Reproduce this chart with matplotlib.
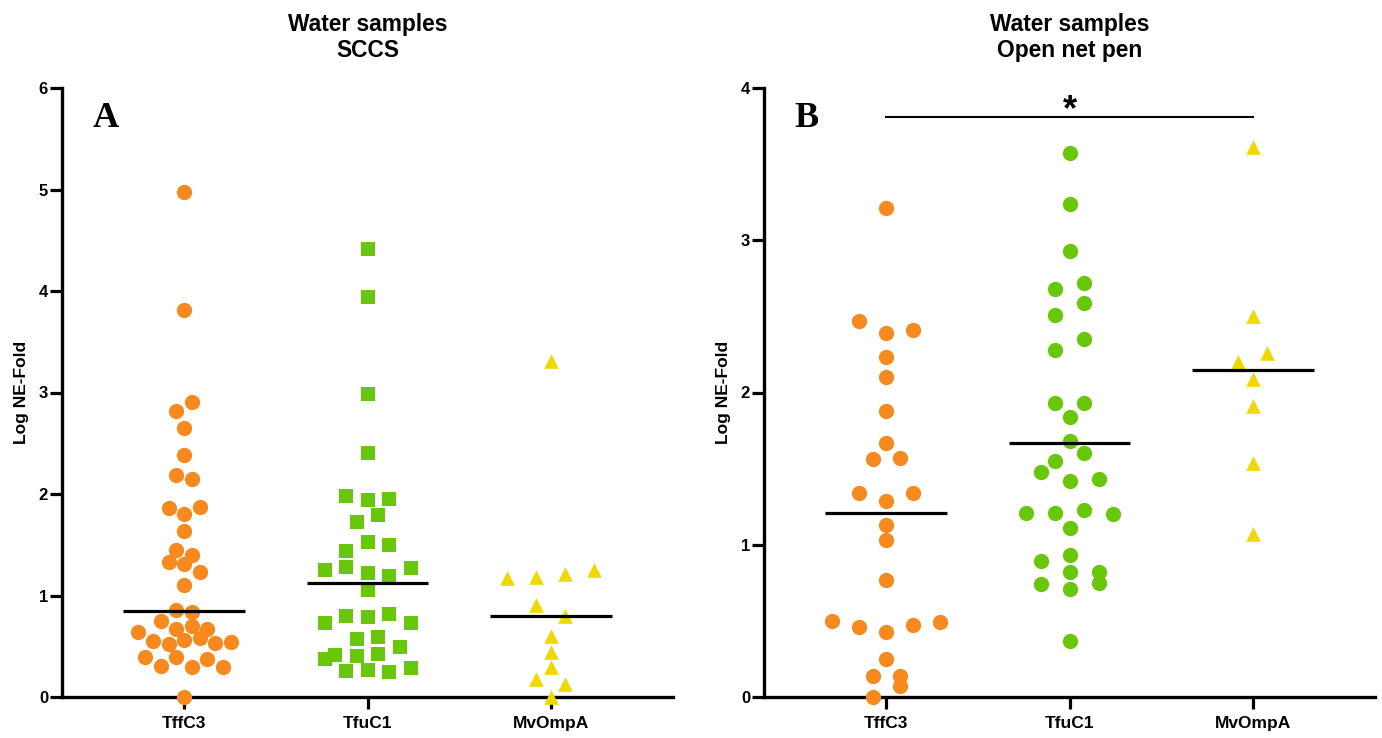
import numpy as np
import matplotlib
matplotlib.use('Agg')
import matplotlib.pyplot as plt

# ==============================
# Data (Log NE-Fold)
# ==============================
categories = ['TffC3', 'TfuC1', 'MvOmpA']

# Panel A - Water samples, SCCS
sccs_tffc3 = [4.98, 3.81, 2.82, 2.91, 2.65, 2.38, 2.19, 2.15, 1.86, 1.80, 1.87,
              1.64, 1.45, 1.40, 1.33, 1.31, 1.23, 1.10, 0.86, 0.84, 0.64, 0.75,
              0.67, 0.70, 0.67, 0.55, 0.52, 0.56, 0.58, 0.53, 0.54, 0.39, 0.31,
              0.39, 0.30, 0.37, 0.30, 0.0]
sccs_tfuc1 = [4.41, 3.94, 2.99, 2.40, 1.98, 1.94, 1.95, 1.72, 1.79, 1.44, 1.53,
              1.50, 1.25, 1.28, 1.22, 1.19, 1.27, 1.05, 0.73, 0.80, 0.79, 0.82,
              0.73, 0.57, 0.59, 0.41, 0.40, 0.42, 0.37, 0.49, 0.26, 0.27, 0.25,
              0.29]
sccs_mvompa = [3.31, 1.17, 1.18, 1.21, 1.25, 0.91, 0.80, 0.60, 0.44, 0.30,
               0.18, 0.13, 0.0]

# Panel B - Water samples, Open net pen
onp_tffc3 = [3.21, 2.47, 2.39, 2.41, 2.23, 2.10, 1.88, 1.67, 1.56, 1.57, 1.34,
             1.29, 1.34, 1.13, 1.03, 0.77, 0.50, 0.46, 0.43, 0.47, 0.49, 0.25,
             0.14, 0.14, 0.0, 0.075]
onp_tfuc1 = [3.57, 3.24, 2.93, 2.68, 2.72, 2.51, 2.59, 2.28, 2.35, 1.93, 1.93,
             1.84, 1.68, 1.55, 1.60, 1.48, 1.42, 1.43, 1.21, 1.21, 1.23, 1.20,
             1.11, 0.93, 0.89, 0.82, 0.74, 0.82, 0.71, 0.75, 0.37]
onp_mvompa = [3.61, 2.50, 2.20, 2.26, 2.09, 1.91, 1.54, 1.07]

# significance bar in panel B (TffC3 vs MvOmpA)
sig_pair = (0, 2)
sig_level = 3.81
sig_text = '*'

# ==============================
# Style
# ==============================
plt.rcParams['font.family'] = ['Liberation Sans', 'DejaVu Sans']

orange = '#F7891F'
green = '#68C70A'
yellow = '#F0D800'

W, H = 1382, 738


def swarm_offsets(values, bin_px, step_px, px_x, px_y):
    """Simple row-binned scatter layout (like a prism dot plot)."""
    order = sorted(range(len(values)), key=lambda k: values[k])
    rows, cur, start = [], [], None
    for k in order:
        if cur and (values[k] - start) * px_y >= bin_px:
            rows.append(cur)
            cur = []
        if not cur:
            start = values[k]
        cur.append(k)
    rows.append(cur)
    offs = np.zeros(len(values))
    for row in rows:
        row.sort()
        n = len(row)
        for j, k in enumerate(row):
            offs[k] = (j - (n - 1) / 2) * step_px / px_x
    return offs


def draw_panel(ax, groups, markers, sizes, colors, steps, ymax, center_fn,
               title, letter):
    ax.set_xlim(-0.665, 2.665)
    ax.set_ylim(0, ymax)
    p0 = ax.transData.transform((0, 0))
    p1 = ax.transData.transform((1, 1))
    px_x, px_y = p1[0] - p0[0], p1[1] - p0[1]

    for i, vals in enumerate(groups):
        vals = np.asarray(vals)
        offs = swarm_offsets(vals, 13, steps[i], px_x, px_y)
        ax.scatter(i + offs, vals, marker=markers[i], s=sizes[i],
                   color=colors[i], linewidths=0, clip_on=False, zorder=3)
        c = center_fn(vals)
        ax.plot([i - 0.33, i + 0.33], [c, c], color='black', lw=2.3,
                solid_capstyle='butt', zorder=4)

    for s in ['top', 'right']:
        ax.spines[s].set_visible(False)
    for s in ['left', 'bottom']:
        ax.spines[s].set_linewidth(2.4)
    ax.set_xticks(range(len(categories)))
    ax.set_xticklabels(categories, fontsize=12.5, fontweight='bold')
    ax.set_yticks(range(0, ymax + 1))
    ax.set_yticklabels([str(v) for v in range(0, ymax + 1)], fontsize=12,
                       fontweight='bold')
    ax.tick_params(axis='both', width=2.3, length=8.5)
    ax.tick_params(axis='x', pad=5)
    ax.tick_params(axis='y', pad=1.5)
    ax.set_ylabel('Log NE-Fold', fontsize=12.5, fontweight='bold', labelpad=7)
    ax.set_title(title, fontsize=16.4, fontweight='bold', pad=22)
    ax.text(0.05, 0.936, letter, transform=ax.transAxes, fontsize=26,
            fontweight='bold', family='Liberation Serif', va='baseline')


fig = plt.figure(figsize=(W / 100, H / 100), dpi=100)
ax_a = fig.add_axes([62 / W, 41 / H, 611 / W, 609 / H])
ax_b = fig.add_axes([764 / W, 41 / H, 611 / W, 609 / H])

draw_panel(ax_a, [sccs_tffc3, sccs_tfuc1, sccs_mvompa], ['o', 's', '^'],
           [121, 100, 110], [orange, green, yellow], [15.5, 21.5, 29], 6,
           np.median, 'Water samples\nSCCS', 'A')
draw_panel(ax_b, [onp_tffc3, onp_tfuc1, onp_mvompa], ['o', 'o', '^'],
           [121, 121, 110], [orange, green, yellow], [27, 29, 29], 4,
           np.mean, 'Water samples\nOpen net pen', 'B')

# significance bar
ax_b.plot(sig_pair, [sig_level, sig_level], color='black', lw=1.5,
          clip_on=False)
ax_b.text(np.mean(sig_pair), sig_level - 0.02, sig_text, ha='center',
          va='baseline', fontsize=26, fontweight='bold')

fig.savefig('out.png', dpi=100)
